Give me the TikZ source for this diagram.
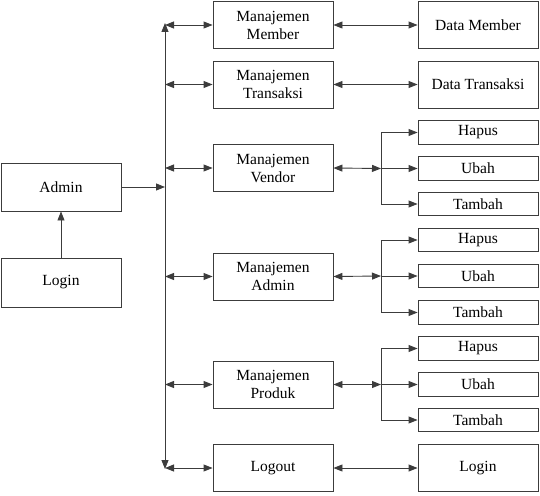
\documentclass[tikz,border=0pt]{standalone}
\usepackage{fontspec}
\setmainfont{Liberation Serif}
\usetikzlibrary{arrows.meta}
\definecolor{ln}{RGB}{60,60,60}
\tikzset{
  box/.style={draw=ln, line width=0.9pt, inner sep=0pt, align=center,
    font=\fontsize{15.5}{18}\selectfont, text=black},
  big/.style={box, minimum width=120pt, minimum height=47pt},
  small/.style={box, minimum width=120pt, minimum height=23.5pt},
  arr/.style={draw=ln, line width=0.9pt, -{Triangle[length=9pt,width=7pt]}},
  dbl/.style={draw=ln, line width=0.9pt, {Triangle[length=9pt,width=7pt]}-{Triangle[length=9pt,width=7pt]}}
}
\begin{document}
\begin{tikzpicture}[x=1pt,y=-1pt]
\useasboundingbox (0,0) rectangle (540,495);
% left
\node[box, minimum width=120pt, minimum height=48pt] (admin) at (61,187) {Admin};
\node[box, minimum width=120pt, minimum height=49pt] (login) at (61,282.5) {Login};
% middle
\node[big] (mm) at (273,25) {Manajemen\\Member};
\node[big] (mt) at (273,84.5) {Manajemen\\Transaksi};
\node[big] (mv) at (273,168) {Manajemen\\Vendor};
\node[big] (ma) at (273,276.5) {Manajemen\\Admin};
\node[big] (mp) at (273,384.5) {Manajemen\\Produk};
\node[big] (lo) at (273,468) {Logout};
% right
\node[big] (dm) at (478,25) {Data Member};
\node[big] (dt) at (478,84.5) {Data Transaksi};
\node[small] (hv) at (478,132.5) {Hapus};
\node[small] (uv) at (478,168.5) {Ubah};
\node[small] (tv) at (478,204) {Tambah};
\node[small] (ha) at (478,240) {Hapus};
\node[small] (ua) at (478,276) {Ubah};
\node[small] (ta) at (478,312.5) {Tambah};
\node[small] (hp) at (478,348.5) {Hapus};
\node[small] (up) at (478,384.5) {Ubah};
\node[small] (tp) at (478,420) {Tambah};
\node[big] (li) at (478,468) {Login};
% bus
\coordinate (busTop) at (165,23);
\coordinate (busBot) at (165,469);
\draw[dbl] (busBot) -- (busTop);
\draw[arr] (login.north) -- (admin.south);
\draw[arr] (admin.east) -- (admin.east -| busTop);
\foreach \n in {mm,mt,mv,ma,mp,lo}{
  \draw[dbl] (\n.west -| busTop) -- (\n.west);
}
\draw[dbl] (mm.east) -- (dm.west);
\draw[dbl] (mt.east) -- (dt.west);
\draw[dbl] (lo.east) -- (li.west);
% branches
\coordinate (jv) at (381,168.5);
\coordinate (ja) at (381,276);
\coordinate (jp) at (381,384.5);
\draw[dbl] (mv.east) -- (jv);
\draw[dbl] (ma.east) -- (ja);
\draw[dbl] (mp.east) -- (jp);
\draw[arr] (jv) |- (hv.west);
\draw[arr] (jv) -- (uv.west);
\draw[arr] (jv) |- (tv.west);
\draw[arr] (ja) |- (ha.west);
\draw[arr] (ja) -- (ua.west);
\draw[arr] (ja) |- (ta.west);
\draw[arr] (jp) |- (hp.west);
\draw[arr] (jp) -- (up.west);
\draw[arr] (jp) |- (tp.west);
\end{tikzpicture}
\end{document}
